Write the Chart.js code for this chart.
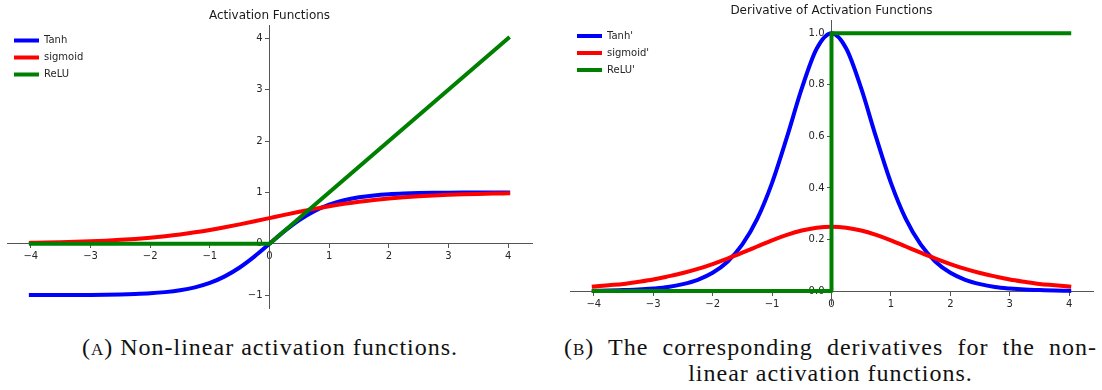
<!DOCTYPE html>
<html>
<head>
<meta charset="utf-8">
<script src="https://cdn.jsdelivr.net/npm/chart.js@4.4.0/dist/chart.umd.min.js"></script>
<style>
  body { margin: 0; background: #fff; width: 1102px; height: 390px; overflow: hidden; position: relative; }
  canvas { position: absolute; top: 0; }
  #chartA { left: 0; }
  #chartB { left: 545px; }
  .cap { position: absolute; font-family: "Liberation Serif", "DejaVu Serif", serif; font-size: 24px; line-height: 26px;
         letter-spacing: 1px; color: #111; white-space: nowrap; }
  .sc { font-variant: small-caps; }
</style>
</head>
<body>
<canvas id="chartA" width="545" height="320"></canvas>
<canvas id="chartB" width="557" height="320"></canvas>
<div class="cap" style="left:60px; top:334px; width:420px; text-align:center">(<span class="sc">a</span>) Non-linear activation functions.</div>
<div class="cap" style="left:564px; top:334px; width:533px; text-align:justify; text-align-last:justify; white-space:normal">(<span class="sc">b</span>) The corresponding derivatives for the non-</div>
<div class="cap" style="left:564px; top:360px; width:533px; text-align:center">linear activation functions.</div>
<script>
// x samples shared by the smooth curves
const xs = [-4, -3.75, -3.5, -3.25, -3, -2.75, -2.5, -2.25, -2, -1.75, -1.5, -1.25, -1, -0.75, -0.5, -0.25,
    0, 0.25, 0.5, 0.75, 1, 1.25, 1.5, 1.75, 2, 2.25, 2.5, 2.75, 3, 3.25, 3.5, 3.75, 4];

// (A) activation functions
const tanhY = [-0.999, -0.999, -0.998, -0.997, -0.995, -0.992, -0.987, -0.978, -0.964, -0.941, -0.905, -0.848, -0.762, -0.635, -0.462, -0.245,
    0, 0.245, 0.462, 0.635, 0.762, 0.848, 0.905, 0.941, 0.964, 0.978, 0.987, 0.992, 0.995, 0.997, 0.998, 0.999, 0.999];
const sigmoidY = [0.018, 0.023, 0.029, 0.037, 0.047, 0.060, 0.076, 0.095, 0.119, 0.148, 0.182, 0.223, 0.269, 0.321, 0.378, 0.438,
    0.5, 0.562, 0.622, 0.679, 0.731, 0.777, 0.818, 0.852, 0.881, 0.905, 0.924, 0.940, 0.953, 0.963, 0.971, 0.977, 0.982];
const reluX = [-4, 0, 4];
const reluY = [0, 0, 4];

// (B) derivatives
const tanhDY = [0.001, 0.002, 0.004, 0.006, 0.010, 0.016, 0.027, 0.044, 0.071, 0.114, 0.181, 0.280, 0.420, 0.597, 0.786, 0.940,
    1.0, 0.940, 0.786, 0.597, 0.420, 0.280, 0.181, 0.114, 0.071, 0.044, 0.027, 0.016, 0.010, 0.006, 0.004, 0.002, 0.001];
const sigmoidDY = [0.018, 0.023, 0.028, 0.036, 0.045, 0.057, 0.070, 0.086, 0.105, 0.126, 0.149, 0.173, 0.197, 0.218, 0.235, 0.246,
    0.25, 0.246, 0.235, 0.218, 0.197, 0.173, 0.149, 0.126, 0.105, 0.086, 0.070, 0.057, 0.045, 0.036, 0.028, 0.023, 0.018];
const reluDX = [-4, 0, 0, 4];
const reluDY = [0, 0, 1, 1];

// ticks
const xTicks = [-4, -3, -2, -1, 0, 1, 2, 3, 4];
const xTickLabels = ["\u22124", "\u22123", "\u22122", "\u22121", "0", "1", "2", "3", "4"];
const yTicksA = [-1, 0, 1, 2, 3, 4];
const yTickLabelsA = ["\u22121", "0", "1", "2", "3", "4"];
const yTicksB = [0, 0.2, 0.4, 0.6, 0.8, 1.0];
const yTickLabelsB = ["0.0", "0.2", "0.4", "0.6", "0.8", "1.0"];

const FONT = "'DejaVu Sans', sans-serif";
const AXIS = "#555";
const TEXT = "#262626";

const pts = (xv, yv) => xv.map((x, i) => ({ x: x, y: yv[i] }));

function series(label, color, data, order, smooth) {
    return {
        label: label,
        data: data,
        borderColor: color,
        backgroundColor: color,
        borderWidth: 4,
        borderCapStyle: "square",
        borderJoinStyle: "round",
        pointRadius: 0,
        fill: false,
        order: order,
        tension: 0,
        cubicInterpolationMode: smooth ? "monotone" : "default",
    };
}

function axis(ticks, labels, min, max, pos) {
    return {
        type: "linear",
        min: min,
        max: max,
        position: pos,
        afterBuildTicks: (s) => { s.ticks = ticks.map((v) => ({ value: v })); },
        ticks: {
            font: { family: FONT, size: 10 },
            color: TEXT,
            padding: 3,
            autoSkip: false,
            maxRotation: 0,
            callback: (v) => { const i = ticks.indexOf(v); return i >= 0 ? labels[i] : ""; },
        },
        grid: { display: true, drawOnChartArea: false, drawTicks: true, tickLength: 4, color: AXIS },
        border: { display: true, color: AXIS, width: 1 },
    };
}

// x = 0 sits in the middle of -4.4..4.4, so the y axis can use the "center" position
function makeChart(id, title, titlePad, padding, legendTop, datasets, yTicks, yLabels, yMin, yMax) {
    return new Chart(document.getElementById(id), {
        type: "line",
        data: { datasets: datasets },
        options: {
            responsive: false,
            animation: false,
            devicePixelRatio: 1,
            layout: { padding: padding },
            scales: {
                x: axis(xTicks, xTickLabels, -4.4, 4.4, { y: 0 }),
                y: axis(yTicks, yLabels, yMin, yMax, "center"),
            },
            plugins: {
                title: {
                    display: true,
                    text: title,
                    fullSize: false,
                    color: "#1a1a1a",
                    font: { family: FONT, size: 12, weight: "normal" },
                    padding: titlePad,
                },
                legend: {
                    position: "chartArea",
                    align: "start",
                    title: { display: true, text: "", font: { size: 10 }, padding: { top: legendTop, bottom: 0 } },
                    labels: {
                        font: { family: FONT, size: 10 },
                        color: TEXT,
                        boxWidth: 25,
                        boxHeight: 4,
                        padding: 7,
                        generateLabels: (chart) => chart.data.datasets.map((ds, i) => ({
                            text: ds.label,
                            fillStyle: ds.borderColor,
                            strokeStyle: ds.borderColor,
                            fontColor: TEXT,
                            lineWidth: 0,
                            hidden: false,
                            datasetIndex: i,
                        })),
                    },
                },
                tooltip: { enabled: false },
            },
        },
    });
}

makeChart("chartA", "Activation Functions", { top: 9, bottom: 2 },
    { left: 7, right: 13, top: 0, bottom: 12 }, 16.5,
    [
        series("Tanh", "#0000ff", pts(xs, tanhY), 2, true),
        series("sigmoid", "#ff0000", pts(xs, sigmoidY), 1, true),
        series("ReLU", "#008000", pts(reluX, reluY), 0, false),
    ],
    yTicksA, yTickLabelsA, -1.25, 4.25);

makeChart("chartB", "Derivative of Activation Functions", { top: 4, bottom: 2 },
    { left: 25, right: 9, top: 0, bottom: 16 }, 12,
    [
        series("Tanh'", "#0000ff", pts(xs, tanhDY), 2, true),
        series("sigmoid'", "#ff0000", pts(xs, sigmoidDY), 1, true),
        series("ReLU'", "#008000", pts(reluDX, reluDY), 0, false),
    ],
    yTicksB, yTickLabelsB, -0.05, 1.05);
</script>
</body>
</html>
